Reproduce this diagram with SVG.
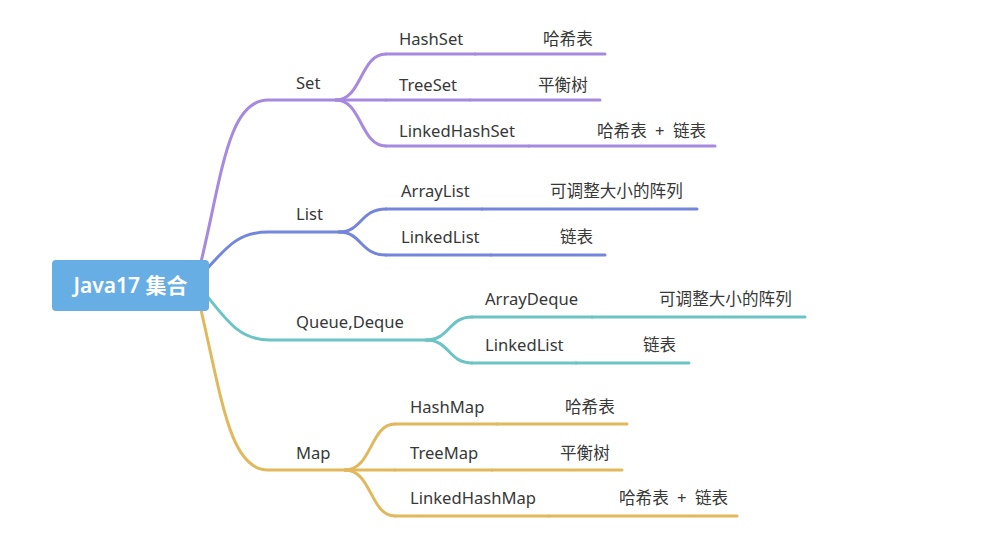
<svg xmlns="http://www.w3.org/2000/svg" width="995" height="554" viewBox="0 0 995 554">
<style>
.t{font-family:"Noto Sans","Noto Sans CJK SC",sans-serif;font-size:16.6px;fill:#383838}
.w{word-spacing:4px}
.c{fill:none;stroke-width:3;stroke-linecap:round}
.p{stroke:#A58ADF}.b{stroke:#7386DB}.g{stroke:#6CC4C4}.y{stroke:#E1B85B}
</style>
<rect width="995" height="554" fill="#fff"/>
<g id="connectors">
<path class="c p" d="M201,262 C222,175 228,100 268,100 L340,100"/>
<path class="c b" d="M206,270 C228,245 240,232 268,232 L343,232"/>
<path class="c g" d="M207,296 C228,322 240,340 270,340 L430,340"/>
<path class="c y" d="M201,310 C222,400 230,470 268,470 L348,470"/>
<path class="c p" d="M336,100 C362,100 360,54 386,54"/>
<path class="c p" d="M336,100 L386,100"/>
<path class="c p" d="M336,100 C362,100 360,146 386,146"/>
<path class="c b" d="M339,232 C362,232 360,209 386,209"/>
<path class="c b" d="M339,232 C362,232 360,255 386,255"/>
<path class="c g" d="M426,340 C450,340 448,317 472,317"/>
<path class="c g" d="M426,340 C450,340 448,363 472,363"/>
<path class="c y" d="M345,470 C372,470 370,424 395,424"/>
<path class="c y" d="M345,470 L395,470"/>
<path class="c y" d="M345,470 C372,470 370,516 395,516"/>
</g>
<g id="root">
<rect x="52" y="260" width="157" height="51" rx="4" fill="#67AEE4"/>
<text x="130.5" y="293" text-anchor="middle" style="font-family:'Noto Sans','Noto Sans CJK SC',sans-serif;font-size:21px;font-weight:600;fill:#fff">Java17 集合</text>
</g>
<g id="set"><text class="t" x="296" y="89">Set</text></g>
<g id="hashset"><text class="t" x="399" y="45">HashSet</text><path class="c p" d="M386,54 L475,54"/></g>
<g id="hashset-impl"><text class="t" x="543" y="45">哈希表</text><path class="c p" d="M475,54 L605,54"/></g>
<g id="treeset"><text class="t" x="399" y="91">TreeSet</text><path class="c p" d="M386,100 L470,100"/></g>
<g id="treeset-impl"><text class="t" x="538" y="91">平衡树</text><path class="c p" d="M470,100 L600,100"/></g>
<g id="linkedhashset"><text class="t" x="399" y="137">LinkedHashSet</text><path class="c p" d="M386,146 L529,146"/></g>
<g id="linkedhashset-impl"><text class="t w" x="597" y="137">哈希表 + 链表</text><path class="c p" d="M529,146 L715,146"/></g>

<g id="list"><text class="t" x="296" y="220">List</text></g>
<g id="arraylist"><text class="t" x="401" y="197">ArrayList</text><path class="c b" d="M386,209 L482,209"/></g>
<g id="arraylist-impl"><text class="t" x="550" y="197">可调整大小的阵列</text><path class="c b" d="M482,209 L697,209"/></g>
<g id="linkedlist"><text class="t" x="401" y="243">LinkedList</text><path class="c b" d="M386,255 L491,255"/></g>
<g id="linkedlist-impl"><text class="t" x="560" y="243">链表</text><path class="c b" d="M491,255 L605,255"/></g>

<g id="queue"><text class="t" x="296" y="328">Queue,Deque</text></g>
<g id="arraydeque"><text class="t" x="485" y="305">ArrayDeque</text><path class="c g" d="M472,317 L592,317"/></g>
<g id="arraydeque-impl"><text class="t" x="659" y="305">可调整大小的阵列</text><path class="c g" d="M592,317 L805,317"/></g>
<g id="q-linkedlist"><text class="t" x="485" y="351">LinkedList</text><path class="c g" d="M472,363 L576,363"/></g>
<g id="q-linkedlist-impl"><text class="t" x="643" y="351">链表</text><path class="c g" d="M576,363 L689,363"/></g>

<g id="map"><text class="t" x="296" y="459">Map</text></g>
<g id="hashmap"><text class="t" x="410" y="413">HashMap</text><path class="c y" d="M395,424 L497,424"/></g>
<g id="hashmap-impl"><text class="t" x="565" y="413">哈希表</text><path class="c y" d="M497,424 L627,424"/></g>
<g id="treemap"><text class="t" x="410" y="459">TreeMap</text><path class="c y" d="M395,470 L492,470"/></g>
<g id="treemap-impl"><text class="t" x="560" y="459">平衡树</text><path class="c y" d="M492,470 L622,470"/></g>
<g id="linkedhashmap"><text class="t" x="410" y="504">LinkedHashMap</text><path class="c y" d="M395,516 L549,516"/></g>
<g id="linkedhashmap-impl"><text class="t w" x="619" y="504">哈希表 + 链表</text><path class="c y" d="M549,516 L737,516"/></g>
</svg>
